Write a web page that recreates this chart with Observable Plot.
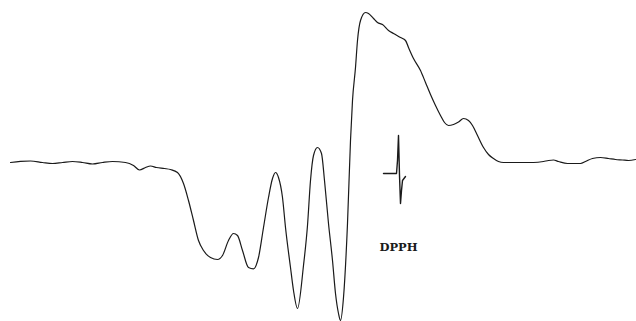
<!DOCTYPE html>
<html>
<head>
<meta charset="utf-8">
<script src="https://cdn.jsdelivr.net/npm/d3@7"></script>
<script src="https://cdn.jsdelivr.net/npm/@observablehq/plot@0.6"></script>
<style>
  html, body { margin: 0; padding: 0; background: #fff; }
  #chart svg { display: block; }
</style>
</head>
<body>
<div id="chart"></div>
<script>
// EPR spectrum: field position (arbitrary units) and derivative signal (arbitrary units)
const field = [10,20,30,42,52,62,72,82,92,102,112,125,133,139,145,150,156,164,170,177,183,188,193,198,203,210,217,222,228,233,237,242,248,253,258,263,268,272,275,278,282,285,290,293,297,303,307,310,313,317,321,324,328,332,335,338,340,343,347,350,352,355,357,360,365,368,373,377,382,388,393,400,405,408,413,420,425,430,435,440,444,448,453,458,463,468,472,477,483,488,493,498,503,513,523,533,543,548,553,558,567,575,580,585,592,600,608,615,622,628,635];
const signal = [-2,-0.8,-0.5,-2,-3,-2,-1,-2,-3.5,-2,-1,-2,-5,-9.5,-7,-5.5,-7,-8,-9,-12,-23,-40,-60,-80,-90,-97,-99,-95,-80,-73,-75,-90,-107,-108.3,-97,-67,-37,-18,-12,-17,-37,-67,-107,-130,-148,-105,-65,-20,5,13,7,-20,-63,-100,-133,-153,-160,-137,-63,20,60,93,120,140,148,147,142,138,136,130,127,123,120,113,102,90,78,66,55,45,38,35,36,38.5,42,40,35,25,13,6,2,-1,-2,-2,-2,-2,-1,0,0.5,-1,-3,-3,-3,-1,2,3,2,1,0.5,0,1];

// DPPH reference marker
const dpphField = [383,390,396,397,398,399,400,401,402,405];
const dpphSignal = [-13,-13,-13,0,25,-15,-43,-30,-20,-16];
const dpphLabel = [{field: 398, signal: -87, text: "DPPH"}];

const spectrum = field.map((f, i) => ({field: f, signal: signal[i]}));
const marker = dpphField.map((f, i) => ({field: f, signal: dpphSignal[i]}));

const chart = Plot.plot({
  width: 636,
  height: 321,
  margin: 0,
  x: {domain: [0, 636], axis: null},
  y: {domain: [-161, 160], axis: null},
  marks: [
    Plot.line(spectrum, {x: "field", y: "signal", curve: "monotone-x", stroke: "#1a1a1a", strokeWidth: 1.2}),
    Plot.line(marker, {x: "field", y: "signal", curve: "linear", stroke: "#1a1a1a", strokeWidth: 1.4}),
    Plot.text(dpphLabel, {x: "field", y: "signal", text: "text", fontFamily: "DejaVu Serif", fontWeight: "bold", fontSize: 11.5, fill: "#1a1a1a"})
  ]
});
document.getElementById("chart").appendChild(chart);
</script>
</body>
</html>
